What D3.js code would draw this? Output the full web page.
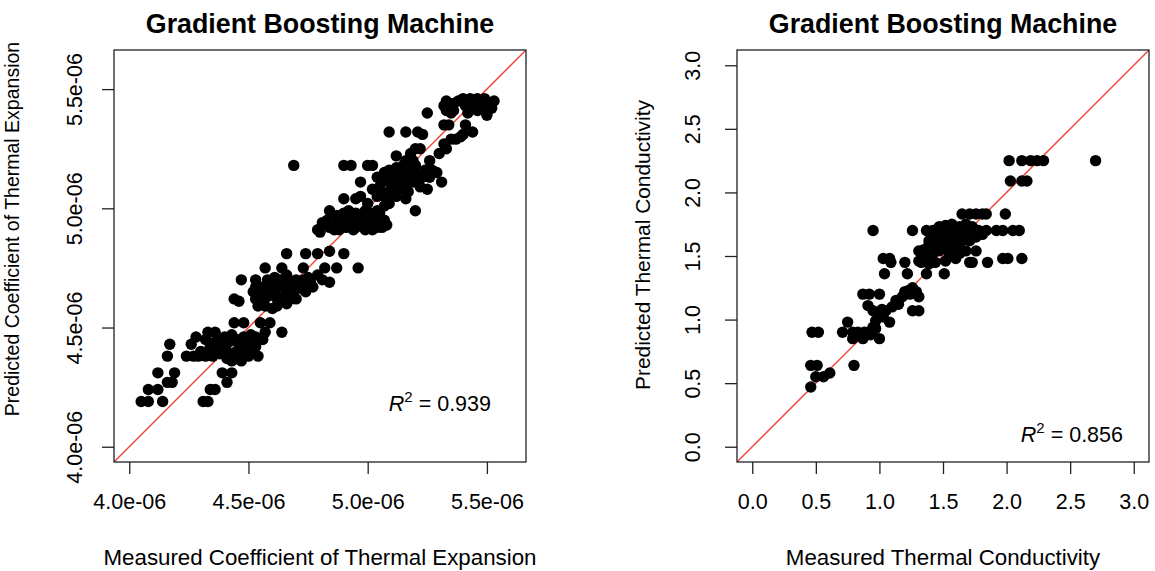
<!DOCTYPE html>
<html>
<head>
<meta charset="utf-8">
<script src="https://cdn.jsdelivr.net/npm/d3@7"></script>
<style>
  body { margin: 0; background: #fff; }
  svg text { font-family: "Liberation Sans", Arial, Helvetica, sans-serif; fill: #000; }
</style>
</head>
<body>
<div id="chart"></div>
<script>
// Coefficient of thermal expansion, [measured, predicted], in units of 1e-6
const cteUnit = 1e-6;
const ctePoints = [
  [4.05,4.19],[4.08,4.19],[4.14,4.19],[4.31,4.19],[4.33,4.19],
  [4.08,4.24],[4.12,4.24],[4.34,4.24],[4.36,4.24],
  [4.12,4.31],[4.19,4.31],[4.16,4.27],[4.18,4.27],[4.39,4.31],[4.43,4.31],[4.41,4.27],
  [4.16,4.38],[4.17,4.43],
  [4.24,4.38],[4.27,4.38],[4.29,4.38],[4.32,4.38],[4.35,4.38],[4.38,4.39],[4.41,4.40],
  [4.26,4.43],[4.28,4.46],[4.33,4.48],[4.36,4.48],
  [4.38,4.45],[4.39,4.42],[4.42,4.44],[4.45,4.45],[4.48,4.46],[4.50,4.45],[4.53,4.46],[4.54,4.38],
  [4.50,4.38],[4.48,4.39],[4.45,4.40],[4.42,4.39],[4.53,4.42],[4.50,4.42],[4.48,4.42],[4.44,4.52],
  [4.48,4.52],[4.55,4.52],[4.59,4.52],[4.57,4.48],[4.64,4.48],[4.56,4.45],[4.41,4.37],[4.45,4.37],
  [4.36,4.44],[4.34,4.42],
  [4.40,4.46],[4.43,4.47],[4.46,4.43],[4.51,4.47],[4.37,4.41],[4.47,4.36],[4.43,4.36],[4.52,4.40],
  [4.30,4.40],[4.32,4.45],
  [4.47,4.70],[4.44,4.62],[4.46,4.61],[4.53,4.70],
  [4.57,4.75],[4.64,4.75],[4.73,4.75],[4.82,4.75],[4.87,4.75],[4.96,4.75],
  [4.66,4.81],[4.74,4.81],[4.79,4.81],[4.84,4.82],[4.90,4.81],
  [4.64,4.70],[4.73,4.70],
  [4.56,4.67],[4.59,4.65],[4.62,4.62],[4.64,4.67],[4.67,4.65],[4.70,4.67],[4.76,4.69],[4.79,4.72],
  [4.81,4.70],[4.84,4.69],[4.55,4.62],[4.57,4.59],[4.60,4.58],[4.66,4.60],[4.70,4.62],[4.74,4.65],
  [4.63,4.70],[4.52,4.65],[4.77,4.67],[4.55,4.66],[4.58,4.70],[4.60,4.67],[4.54,4.59],[4.62,4.59],
  [4.70,4.70],[4.73,4.66],[4.67,4.69],[4.58,4.63],[4.53,4.67],
  [4.61,4.71],[4.65,4.63],[4.68,4.62],[4.72,4.68],[4.57,4.65],[4.61,4.64],[4.66,4.72],[4.75,4.71],
  [4.53,4.62],[4.69,4.65],
  [4.79,4.91],[4.80,4.90],[4.81,4.94],[4.84,4.92],[4.87,4.94],[4.88,4.91],[4.90,4.98],[4.93,4.95],
  [4.94,4.91],[4.95,4.92],[4.98,4.96],[4.99,4.91],[5.01,4.94],[5.04,4.92],[5.07,4.95],[5.08,4.93],
  [5.05,4.98],[4.84,4.99],[4.87,4.97],[4.93,4.97],[4.95,4.98],[4.98,4.97],[5.01,4.98],[5.04,4.99],
  [4.97,4.94],[4.90,4.94],[5.02,4.91],
  [4.83,4.95],[4.86,4.91],[4.91,4.92],[4.96,4.96],[5.00,4.95],[5.03,4.96],[4.92,4.99],[4.99,4.99],
  [5.06,4.92],[4.89,4.96],
  [4.90,5.04],[4.95,5.04],[4.97,5.05],[5.00,5.02],[5.07,5.01],[5.09,5.02],
  [5.20,4.99],[4.97,5.11],
  [4.90,5.18],[4.93,5.18],[5.00,5.18],[5.02,5.18],[4.69,5.18],
  [5.04,5.13],[5.07,5.15],[5.09,5.16],[5.12,5.17],[5.15,5.18],[5.18,5.16],[5.21,5.14],[5.23,5.13],
  [5.26,5.13],[5.29,5.15],[5.31,5.11],[5.14,5.11],[5.09,5.11],[5.05,5.09],[5.02,5.08],[5.07,5.05],
  [5.11,5.06],[5.15,5.08],[5.22,5.09],[5.25,5.08],[5.19,5.11],[5.08,5.12],[5.11,5.15],[5.14,5.12],
  [5.16,5.09],[5.19,5.15],[5.12,5.05],[5.16,5.04],[5.04,5.05],[5.05,5.07],
  [5.10,5.13],[5.13,5.14],[5.17,5.13],[5.20,5.18],[5.06,5.11],[5.12,5.09],[5.17,5.07],[5.24,5.16],
  [5.09,5.07],[5.14,5.16],[5.21,5.11],[5.27,5.16],
  [5.12,5.22],[5.16,5.20],[5.19,5.20],[5.26,5.20],[5.18,5.23],[5.20,5.25],[5.22,5.25],
  [5.09,5.32],[5.16,5.32],[5.21,5.32],[5.23,5.31],[5.25,5.40],
  [5.33,5.45],[5.36,5.44],[5.40,5.46],[5.43,5.46],[5.46,5.46],[5.49,5.46],[5.51,5.44],[5.53,5.45],
  [5.33,5.41],[5.35,5.40],[5.42,5.40],[5.46,5.41],[5.49,5.41],[5.50,5.39],[5.38,5.45],[5.44,5.44],
  [5.47,5.44],[5.32,5.43],[5.41,5.43],[5.45,5.43],[5.48,5.45],[5.36,5.41],[5.52,5.42],
  [5.32,5.35],[5.34,5.35],[5.41,5.35],[5.44,5.32],
  [5.37,5.29],[5.39,5.30],[5.40,5.31],[5.32,5.27],[5.30,5.23],[5.33,5.25],[5.35,5.29]
];

// Thermal conductivity, [measured, predicted]
const tcPoints = [
  [0.46,0.47],[0.46,0.64],[0.51,0.64],[0.50,0.55],[0.56,0.55],[0.61,0.58],
  [0.47,0.90],[0.52,0.90],[0.80,0.64],[0.71,0.90],[0.75,0.98],
  [0.79,0.85],[0.83,0.90],[0.87,0.85],[0.91,0.90],[0.95,0.94],[1.00,0.85],[0.79,0.90],[0.85,0.88],
  [0.88,0.90],[0.93,0.88],[0.97,0.93],
  [0.95,1.07],[0.97,0.99],[1.00,1.05],[1.05,1.07],[1.10,1.10],[1.13,1.15],[1.18,1.18],[1.24,1.20],
  [1.29,1.22],[1.31,1.18],[0.91,1.11],[0.87,1.20],[0.92,1.20],[1.00,1.20],[1.08,0.98],[1.26,1.07],
  [1.31,1.07],[1.23,1.23],[1.26,1.25],[1.02,1.08],[1.03,1.02],[1.15,1.12],[1.20,1.22],
  [0.95,1.70],
  [1.04,1.36],[1.09,1.45],[1.20,1.45],[1.22,1.36],[1.33,1.45],[1.37,1.36],[1.51,1.36],
  [1.03,1.48],[1.08,1.48],
  [1.26,1.70],[1.37,1.70],[1.42,1.70],[1.47,1.73],[1.52,1.74],[1.57,1.75],[1.63,1.73],[1.68,1.75],
  [1.73,1.73],[1.78,1.70],[1.84,1.70],[1.92,1.70],[1.97,1.70],[2.05,1.70],[2.10,1.70],
  [1.39,1.62],[1.44,1.65],[1.50,1.67],[1.55,1.70],[1.60,1.67],[1.65,1.62],[1.71,1.62],[1.76,1.65],
  [1.81,1.67],
  [1.31,1.54],[1.37,1.49],[1.42,1.52],[1.47,1.54],[1.52,1.57],[1.57,1.54],[1.63,1.52],[1.68,1.54],
  [1.76,1.54],
  [1.31,1.46],[1.39,1.44],[1.44,1.45],[1.52,1.46],[1.60,1.48],[1.71,1.45],[1.73,1.45],[1.85,1.45],
  [1.97,1.48],[2.01,1.48],[2.12,1.48],
  [1.39,1.59],[1.44,1.62],[1.49,1.60],[1.55,1.62],[1.62,1.60],[1.68,1.67],[1.58,1.65],[1.45,1.58],
  [1.47,1.62],[1.53,1.63],[1.58,1.58],[1.63,1.65],[1.70,1.68],[1.74,1.70],[1.66,1.70],[1.49,1.70],
  [1.55,1.52],[1.60,1.55],[1.35,1.55],[1.58,1.72],
  [1.65,1.83],[1.71,1.83],[1.76,1.83],[1.81,1.83],[1.84,1.83],[1.99,1.83],
  [2.03,2.09],[2.12,2.09],[2.16,2.09],
  [2.02,2.25],[2.12,2.25],[2.19,2.25],[2.24,2.25],[2.29,2.25],[2.70,2.25]
];

const cteLimits = [4.0, 5.6];
const tcLimits = [0, 3];
const cteTicks = [4.0, 4.5, 5.0, 5.5];
const tcTicks = [0, 0.5, 1.0, 1.5, 2.0, 2.5, 3.0];
const r2Labels = ["0.939", "0.856"];
const chartTitle = "Gradient Boosting Machine";

const svg = d3.select("#chart")
  .append("svg")
  .attr("width", 1155)
  .attr("height", 571);

// R-style axis range: limits padded by 4% on each side
function padded(lim) {
  const d = (lim[1] - lim[0]) * 0.04;
  return [lim[0] - d, lim[1] + d];
}

const panels = [
  {
    id: "cte",
    left: 114, top: 50, size: 412,
    points: ctePoints.map(p => [p[0] * cteUnit, p[1] * cteUnit]),
    domain: padded(cteLimits.map(v => v * cteUnit)),
    ticks: cteTicks.map(v => v * cteUnit),
    fmt: v => (v / cteUnit).toFixed(1) + "e-06",
    xTitle: "Measured Coefficient of Thermal Expansion",
    yTitle: "Predicted Coefficient of Thermal Expansion",
    r2: r2Labels[0],
    yLabelX: -32, yTitleX: -95.5, yTitleY: 229, yTitleSize: 19.5,
    r2X: 377, r2Y: 361
  },
  {
    id: "tc",
    left: 737, top: 50, size: 412,
    points: tcPoints,
    domain: padded(tcLimits),
    ticks: tcTicks,
    fmt: d3.format(".1f"),
    xTitle: "Measured Thermal Conductivity",
    yTitle: "Predicted Thermal Conductivity",
    r2: r2Labels[1],
    yLabelX: -37, yTitleX: -87, yTitleY: 245, yTitleSize: 20.9,
    r2X: 386, r2Y: 392
  }
];

panels.forEach(function(p) {
  const g = svg.append("g")
    .attr("transform", `translate(${p.left},${p.top})`);

  const x = d3.scaleLinear().domain(p.domain).range([0, p.size]);
  const y = d3.scaleLinear().domain(p.domain).range([p.size, 0]);

  g.append("clipPath")
    .attr("id", "clip-" + p.id)
    .append("rect")
    .attr("width", p.size)
    .attr("height", p.size);

  // identity line
  g.append("line")
    .attr("clip-path", `url(#clip-${p.id})`)
    .attr("x1", x(p.domain[0]))
    .attr("y1", y(p.domain[0]))
    .attr("x2", x(p.domain[1]))
    .attr("y2", y(p.domain[1]))
    .attr("stroke", "#f23d2c")
    .attr("stroke-width", 1.3);

  // points
  g.append("g")
    .selectAll("circle")
    .data(p.points)
    .enter()
    .append("circle")
    .attr("cx", d => x(d[0]))
    .attr("cy", d => y(d[1]))
    .attr("r", 5.7)
    .attr("fill", "#000");

  // box
  g.append("rect")
    .attr("width", p.size)
    .attr("height", p.size)
    .attr("fill", "none")
    .attr("stroke", "#222")
    .attr("stroke-width", 1.3);

  // x axis
  const xAxis = g.append("g")
    .attr("transform", `translate(0,${p.size})`)
    .call(d3.axisBottom(x).tickValues(p.ticks).tickFormat(p.fmt)
      .tickSize(12).tickPadding(20).tickSizeOuter(0));
  xAxis.select(".domain").remove();
  xAxis.selectAll("line").attr("stroke", "#222").attr("stroke-width", 1.3);
  xAxis.selectAll("text")
    .attr("font-family", null)
    .attr("font-size", 21.5)
    .attr("fill", "#000");

  // y axis with rotated labels
  const yAxis = g.append("g")
    .call(d3.axisLeft(y).tickValues(p.ticks).tickFormat(p.fmt)
      .tickSize(12).tickSizeOuter(0));
  yAxis.select(".domain").remove();
  yAxis.selectAll("line").attr("stroke", "#222").attr("stroke-width", 1.3);
  yAxis.selectAll("text")
    .attr("font-family", null)
    .attr("font-size", 21.5)
    .attr("fill", "#000")
    .attr("x", null)
    .attr("dy", null)
    .attr("text-anchor", "middle")
    .attr("transform", `translate(${p.yLabelX},0) rotate(-90)`);

  // title
  g.append("text")
    .attr("x", p.size / 2)
    .attr("y", -17.5)
    .attr("text-anchor", "middle")
    .attr("font-size", 26.8)
    .attr("font-weight", "bold")
    .text(chartTitle);

  // x label
  g.append("text")
    .attr("x", p.size / 2)
    .attr("y", p.size + 103)
    .attr("text-anchor", "middle")
    .attr("font-size", 22.3)
    .text(p.xTitle);

  // y label
  g.append("text")
    .attr("transform", `translate(${p.yTitleX},${p.yTitleY - p.top}) rotate(-90)`)
    .attr("text-anchor", "middle")
    .attr("font-size", p.yTitleSize)
    .text(p.yTitle);

  // R squared
  const r2 = g.append("text")
    .attr("x", p.r2X)
    .attr("y", p.r2Y)
    .attr("text-anchor", "end")
    .attr("font-size", 21.5);
  r2.append("tspan").attr("font-style", "italic").text("R");
  r2.append("tspan").attr("font-size", 15).attr("dy", -9).text("2");
  r2.append("tspan").attr("dy", 9).text(" = " + p.r2);
});
</script>
</body>
</html>
